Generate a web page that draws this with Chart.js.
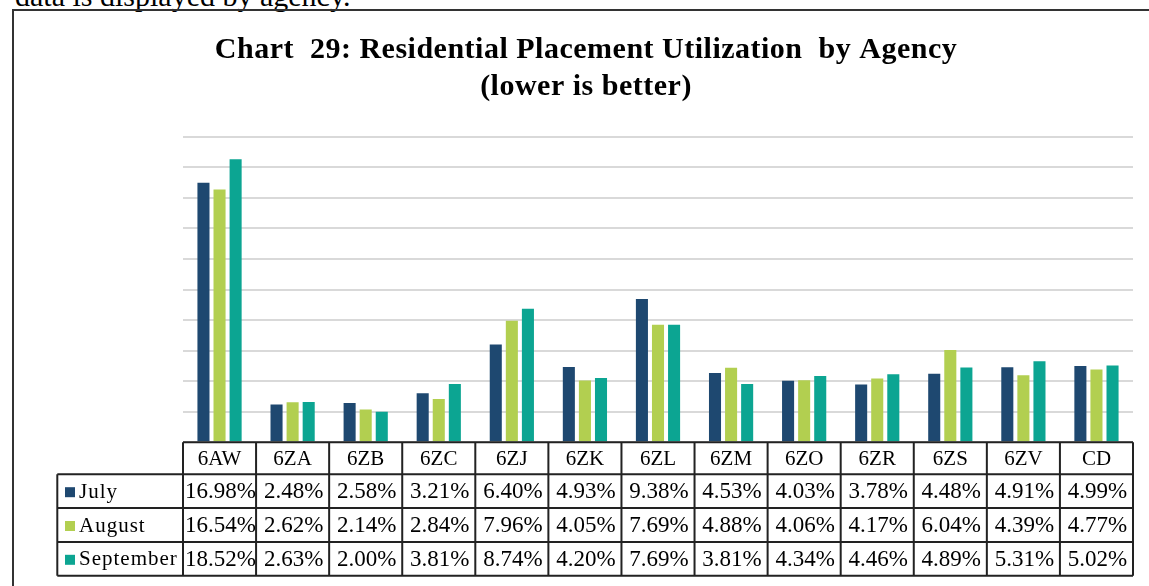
<!DOCTYPE html>
<html>
<head>
<meta charset="utf-8">
<script src="https://cdn.jsdelivr.net/npm/chart.js@4.4.1/dist/chart.umd.min.js"></script>
<style>
  html, body { margin: 0; padding: 0; background: #fff; width: 1149px; height: 586px; overflow: hidden; position: relative; }
  #lead { position: absolute; left: 15px; top: -18px; font: 30px/28px "Liberation Serif", serif; color: #000; white-space: nowrap; }
  #box { position: absolute; left: 12px; top: 9px; width: 1146px; height: 600px; border: 2px solid #333; }
  canvas { display: block; }
</style>
</head>
<body>
<div id="lead">data is displayed by agency.</div>
<div id="box"><canvas id="agencyChart" width="1146" height="580"></canvas></div>
<script>
const agencies = ["6AW", "6ZA", "6ZB", "6ZC", "6ZJ", "6ZK", "6ZL", "6ZM", "6ZO", "6ZR", "6ZS", "6ZV", "CD"];
const julyValues = [16.98, 2.48, 2.58, 3.21, 6.40, 4.93, 9.38, 4.53, 4.03, 3.78, 4.48, 4.91, 4.99];
const augustValues = [16.54, 2.62, 2.14, 2.84, 7.96, 4.05, 7.69, 4.88, 4.06, 4.17, 6.04, 4.39, 4.77];
const septemberValues = [18.52, 2.63, 2.00, 3.81, 8.74, 4.20, 7.69, 3.81, 4.34, 4.46, 4.89, 5.31, 5.02];
const seriesNames = ["July", "August", "September"];
const seriesColors = ["#1e4870", "#b2cf50", "#0ca592"];
const titleLines = ["Chart  29: Residential Placement Utilization  by Agency", "(lower is better)"];

const serif = '"Liberation Serif", "Times New Roman", serif';

// two-line title, centred on the whole framed box
const chartTitle = {
  id: "chartTitle",
  afterDraw(chart) {
    const ctx = chart.ctx;
    ctx.save();
    ctx.fillStyle = "#000";
    ctx.textAlign = "center";
    ctx.textBaseline = "alphabetic";
    ctx.font = "bold 30px " + serif;
    ctx.letterSpacing = "0.5px";
    ctx.fillText(titleLines[0], 572, 47);
    ctx.fillText(titleLines[1], 572, 84);
    ctx.restore();
  },
};

// data table under the bars, columns follow the x scale
const dataTable = {
  id: "dataTable",
  afterDraw(chart) {
    const ctx = chart.ctx;
    const area = chart.chartArea;
    const colW = (area.right - area.left) / agencies.length;
    const headerH = 32;
    const rowH = 33.8;
    const legendLeft = 43.3;
    const top = area.bottom;
    const rowsTop = top + headerH;
    const bottom = rowsTop + rowH * 3;

    ctx.save();
    ctx.strokeStyle = "#222";
    ctx.lineWidth = 2;
    ctx.beginPath();
    ctx.moveTo(area.left, top); ctx.lineTo(area.right, top);
    for (let r = 0; r <= 3; r++) {
      const y = rowsTop + r * rowH;
      ctx.moveTo(legendLeft, y); ctx.lineTo(area.right, y);
    }
    ctx.moveTo(legendLeft, rowsTop); ctx.lineTo(legendLeft, bottom);
    for (let i = 0; i <= agencies.length; i++) {
      const x = area.left + i * colW;
      ctx.moveTo(x, top); ctx.lineTo(x, bottom);
    }
    ctx.stroke();

    ctx.fillStyle = "#000";
    ctx.textAlign = "center";
    ctx.textBaseline = "middle";
    ctx.font = "21px " + serif;
    agencies.forEach((a, i) => {
      ctx.fillText(a, area.left + (i + 0.5) * colW, top + headerH / 2 + 1);
    });

    chart.data.datasets.forEach((ds, r) => {
      const yMid = rowsTop + (r + 0.5) * rowH + 1;
      ctx.font = "23px " + serif;
      ctx.textAlign = "center";
      ctx.fillStyle = "#000";
      ds.data.forEach((v, i) => {
        ctx.fillText(v.toFixed(2) + "%", area.left + (i + 0.5) * colW + 1, yMid);
      });
      ctx.fillStyle = ds.backgroundColor;
      ctx.fillRect(51, yMid - 5, 10, 10);
      ctx.fillStyle = "#000";
      ctx.textAlign = "left";
      ctx.font = "21px " + serif;
      ctx.save();
      ctx.letterSpacing = "1px";
      ctx.fillText(ds.label, 65, yMid);
      ctx.restore();
    });
    ctx.restore();
  },
};

const chart = new Chart(document.getElementById("agencyChart"), {
  type: "bar",
  data: {
    labels: agencies,
    datasets: [
      { label: seriesNames[0], data: julyValues, backgroundColor: seriesColors[0] },
      { label: seriesNames[1], data: augustValues, backgroundColor: seriesColors[1] },
      { label: seriesNames[2], data: septemberValues, backgroundColor: seriesColors[2] },
    ],
  },
  options: {
    responsive: false,
    animation: false,
    events: [],
    categoryPercentage: 0.66,
    barPercentage: 0.75,
    layout: { padding: { left: 169, right: 27, top: 125.7, bottom: 148.7 } },
    plugins: {
      legend: { display: false },
      tooltip: { enabled: false },
      title: { display: false },
    },
    scales: {
      x: { display: false },
      y: {
        min: 0,
        max: 20,
        ticks: { display: false, stepSize: 2 },
        grid: { color: "#d9d9d9", lineWidth: 2, drawTicks: false },
        border: { display: false },
      },
    },
  },
  plugins: [chartTitle, dataTable],
});
</script>
</body>
</html>
